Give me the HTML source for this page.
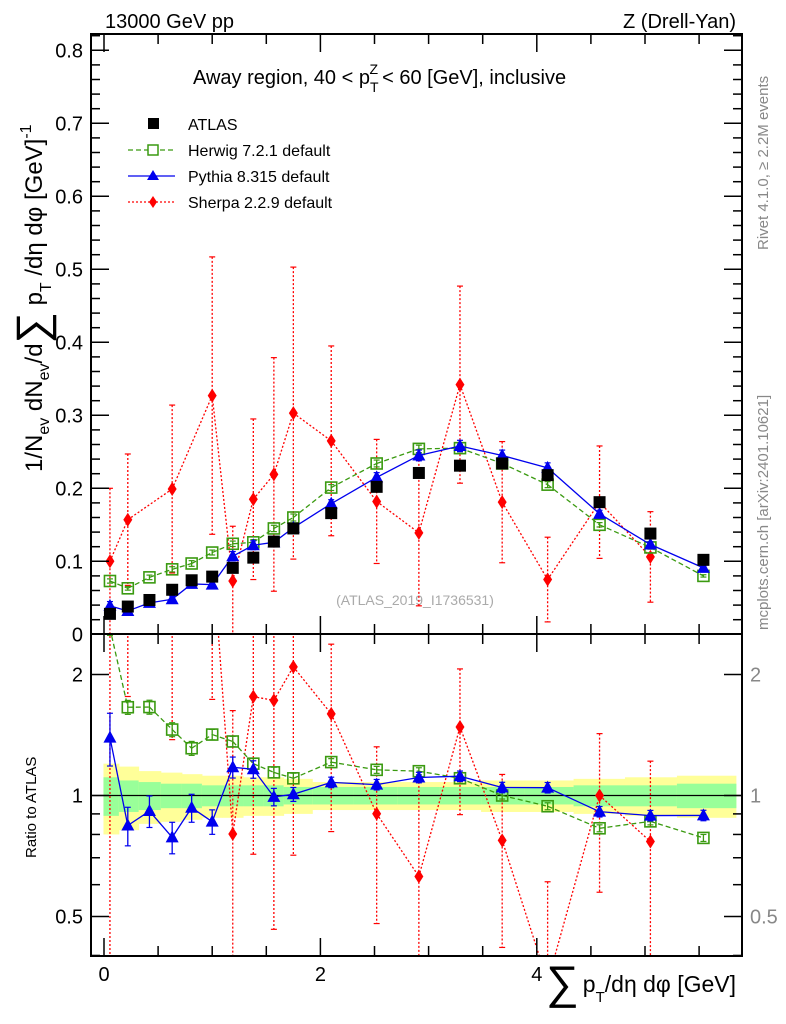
<!DOCTYPE html>
<html><head><meta charset="utf-8"><style>
html,body{margin:0;padding:0;background:#fff;overflow:hidden;width:786px;height:1024px;}
svg{display:block;font-family:"Liberation Sans",sans-serif;}
</style></head><body>
<svg id="chart" width="786" height="1024" viewBox="0 0 786 1024" xmlns="http://www.w3.org/2000/svg">
<defs>
<clipPath id="clipMain"><rect x="91" y="34" width="651" height="600"/></clipPath>
<clipPath id="clipRatio"><rect x="91" y="634" width="651" height="322"/></clipPath>
</defs>
<text x="105" y="28" font-size="20">13000 GeV pp</text>
<text x="736" y="28" font-size="20" text-anchor="end">Z (Drell-Yan)</text>
<text x="193" y="84" font-size="20">Away region, 40 &lt; p<tspan font-size="14" dy="8">T</tspan><tspan font-size="14" dx="-9" dy="-18">Z</tspan><tspan dy="10" dx="4">&lt; 60 [GeV], inclusive</tspan></text>
<text transform="translate(768,250) rotate(-90)" font-size="15" fill="#888">Rivet 4.1.0, ≥ 2.2M events</text>
<text transform="translate(768,630) rotate(-90)" font-size="15" fill="#888">mcplots.cern.ch [arXiv:2401.10621]</text>
<text x="415" y="605" font-size="14" fill="#aaa" text-anchor="middle">(ATLAS_2019_I1736531)</text>
<text transform="translate(42,472) rotate(-90)" font-size="24">1/N<tspan font-size="16" dy="7">ev</tspan><tspan dy="-7"> dN</tspan><tspan font-size="16" dy="7">ev</tspan><tspan dy="-7">/d</tspan><tspan font-size="44" dy="5">∑</tspan><tspan dy="-5"> p</tspan><tspan font-size="16" dy="9">T</tspan><tspan dy="-9"> /dη dφ  [GeV]</tspan><tspan font-size="16" dy="-11">-1</tspan></text>
<text transform="translate(36,858) rotate(-90)" font-size="15">Ratio to ATLAS</text>
<text x="546" y="998" font-size="23"><tspan font-size="46" dy="0">∑</tspan><tspan dx="4" dy="-6">p</tspan><tspan font-size="15" dy="10">T</tspan><tspan dy="-10">/dη dφ [GeV]</tspan></text>
<g id="legend">
 <g><rect x="148" y="118" width="11" height="11" fill="#000"/><text x="188" y="130" font-size="16">ATLAS</text></g>
 <g><line x1="128" y1="150" x2="175" y2="150" stroke="#3a9a10" stroke-width="1.3" stroke-dasharray="5,3"/><rect x="148" y="145" width="10" height="10" fill="#fff" stroke="#3a9a10" stroke-width="1.5"/><text x="188" y="156" font-size="16">Herwig 7.2.1 default</text></g>
 <g><line x1="128" y1="176" x2="175" y2="176" stroke="#0000ee" stroke-width="1.3"/><polygon points="153,170 159,180 147,180" fill="#0000ee"/><text x="188" y="182" font-size="16">Pythia 8.315 default</text></g>
 <g><line x1="128" y1="202" x2="175" y2="202" stroke="#ff0000" stroke-width="1.3" stroke-dasharray="2,2"/><polygon points="153,196 157,202 153,208 149,202" fill="#ff0000"/><text x="188" y="208" font-size="16">Sherpa 2.2.9 default</text></g>
</g>
<g id="plot"></g>
</svg>
<script>
const xVals=[0.055,0.22,0.42,0.63,0.81,1.0,1.19,1.38,1.57,1.75,2.1,2.52,2.91,3.29,3.68,4.1,4.58,5.05,5.54];
const atlas=[0.028,0.038,0.047,0.061,0.074,0.079,0.091,0.105,0.127,0.145,0.166,0.202,0.221,0.231,0.234,0.218,0.181,0.138,0.102];
const herwig=[0.073,0.063,0.078,0.089,0.097,0.112,0.124,0.126,0.145,0.160,0.201,0.234,0.254,0.255,0.234,0.205,0.150,0.119,0.080];
const herwigRelErr=[0.04,0.04,0.04,0.04,0.04,0.03,0.03,0.03,0.03,0.03,0.02,0.02,0.02,0.02,0.02,0.02,0.02,0.02,0.02];
const pythia=[0.039,0.032,0.043,0.048,0.069,0.068,0.107,0.122,0.126,0.146,0.179,0.215,0.245,0.258,0.245,0.228,0.165,0.123,0.091];
const pythiaRelErr=[0.15,0.11,0.09,0.09,0.08,0.07,0.06,0.05,0.05,0.04,0.03,0.03,0.03,0.03,0.03,0.03,0.03,0.03,0.03];
const sherpaX=[0.055,0.22,0.63,1.0,1.19,1.38,1.57,1.75,2.1,2.52,2.91,3.29,3.68,4.1,4.58,5.05];
const sherpaAtlas=[0.028,0.038,0.061,0.079,0.091,0.105,0.127,0.145,0.166,0.202,0.221,0.231,0.234,0.218,0.181,0.138];
const sherpa=[0.100,0.157,0.199,0.327,0.073,0.185,0.219,0.303,0.265,0.182,0.139,0.342,0.181,0.075,0.181,0.106];
const sherpaErr=[0.10,0.09,0.115,0.19,0.075,0.11,0.16,0.2,0.13,0.085,0.10,0.135,0.083,0.058,0.077,0.062];
const bandTot=[0.2,0.18,0.15,0.14,0.13,0.12,0.12,0.11,0.11,0.1,0.08,0.08,0.08,0.08,0.09,0.09,0.1,0.11,0.12];
const bandStat=[0.11,0.09,0.08,0.07,0.07,0.06,0.06,0.06,0.06,0.05,0.05,0.05,0.05,0.05,0.05,0.05,0.06,0.06,0.07];
const yTicks=[0,0.1,0.2,0.3,0.4,0.5,0.6,0.7,0.8];
const yTickLabels=["0","0.1","0.2","0.3","0.4","0.5","0.6","0.7","0.8"];
const xTickLabels=["0","2","4"];
const rTicks=[0.5,1,2];
const rTickLabels=["0.5","1","2"];

const NS="http://www.w3.org/2000/svg";
const L=91,R=742,MT=34,MB=634,RB=956;
const X=v=>104+108.2*v;
const Y=v=>634.3-730*v;
const RY=v=>795.5-121*Math.log2(v);
const g=document.getElementById('plot');
function el(tag,attrs,parent){const e=document.createElementNS(NS,tag);for(const k in attrs)e.setAttribute(k,attrs[k]);(parent||g).appendChild(e);return e;}

const bandG=el('g',{'clip-path':'url(#clipRatio)'});


for(let i=0;i<xVals.length;i++){
 const xa=i==0?X(xVals[0]-0.06):(X(xVals[i-1])+X(xVals[i]))/2;
 const xb=i==xVals.length-1?X(xVals[i]+0.3):(X(xVals[i])+X(xVals[i+1]))/2;
 const y1=RY(1+bandTot[i]),y2=RY(1-bandTot[i]);
 const r1=el('rect',{x:xa,y:y1,width:xb-xa+0.5,height:y2-y1,fill:'#ffff99'},bandG);
 
 
 const s1=RY(1+bandStat[i]),s2=RY(1-bandStat[i]);
 const r2=el('rect',{x:xa,y:s1,width:xb-xa+0.5,height:s2-s1,fill:'#99ff99'},bandG);
 
 
}
const oneLine=el('line',{x1:L,x2:R,y1:RY(1),y2:RY(1),stroke:'#000','stroke-width':1.3});



function series(name,xs,ys,errs,color,dash,marker,clip,ymap,top,bot){
 const cl=y=>Math.max(top-10,Math.min(bot+10,y));
 const sg=el('g',{'clip-path':'url(#'+clip+')'});
 
 
 const lim=[top-10,bot+10];
 function cut(ax,ay,bx,by){
  if(by<lim[0]){const t=(lim[0]-ay)/(by-ay);return [ax+(bx-ax)*t,lim[0]];}
  if(by>lim[1]){const t=(lim[1]-ay)/(by-ay);return [ax+(bx-ax)*t,lim[1]];}
  return [bx,by];
 }
 if(color!=='#000'){
  for(let i=0;i<xs.length-1;i++){
   let x1=X(xs[i]),y1=ymap(ys[i]),x2=X(xs[i+1]),y2=ymap(ys[i+1]);
   const inA=y1>=lim[0]&&y1<=lim[1], inB=y2>=lim[0]&&y2<=lim[1];
   if(!inA&&!inB)continue;
   if(!inB)[x2,y2]=cut(x1,y1,x2,y2);
   if(!inA)[x1,y1]=cut(x2,y2,x1,y1);
   const seg=el('line',{x1:x1,y1:y1,x2:x2,y2:y2,stroke:color,'stroke-width':1.3,'stroke-dasharray':dash||'none'},sg);
   
   
  }
 }
 xs.forEach((x,i)=>{
  const cx=X(x),cy=ymap(ys[i]);
  if(errs){
   const lo=Math.max(ys[i]-errs[i],1e-3),hi=ys[i]+errs[i];
   const eb=el('line',{x1:cx,x2:cx,y1:cl(ymap(hi)),y2:cl(ymap(lo)),stroke:color,'stroke-width':1.3,'stroke-dasharray':color=='#ff0000'?'2,2':'none'},sg);
   
   
   [hi,lo].forEach(v=>{const yy=ymap(v);if(yy<top||yy>bot)return;const c=el('line',{x1:cx-3,x2:cx+3,y1:yy,y2:yy,stroke:color,'stroke-width':1.2},sg);
    
    });
  }
  if(cy<top-8||cy>bot+8)return;
  let m;
  if(marker=='fsq')m=el('rect',{x:cx-6,y:cy-6,width:12,height:12,fill:'#000'},sg);
  else if(marker=='osq')m=el('rect',{x:cx-5.5,y:cy-5.5,width:11,height:11,fill:'none',stroke:color,'stroke-width':1.6},sg);
  else if(marker=='tri')m=el('polygon',{points:`${cx},${cy-7} ${cx+6.5},${cy+5} ${cx-6.5},${cy+5}`,fill:color},sg);
  else m=el('polygon',{points:`${cx},${cy-7} ${cx+4.5},${cy} ${cx},${cy+7} ${cx-4.5},${cy}`,fill:color},sg);
  
  
 });
}
series('sherpa-series',sherpaX,sherpa,sherpaErr,'#ff0000','2,2','dia','clipMain',Y,MT,MB);
series('herwig-series',xVals,herwig,herwig.map((v,i)=>v*herwigRelErr[i]),'#3a9a10','5,3','osq','clipMain',Y,MT,MB);
series('pythia-series',xVals,pythia,pythia.map((v,i)=>v*pythiaRelErr[i]),'#0000ee',null,'tri','clipMain',Y,MT,MB);
series('atlas-series',xVals,atlas,null,'#000',null,'fsq','clipMain',Y,MT,MB);
const hR=herwig.map((v,i)=>v/atlas[i]);
const pR=pythia.map((v,i)=>v/atlas[i]);
const sR=sherpa.map((v,i)=>v/sherpaAtlas[i]);
series('sherpa-ratio',sherpaX,sR,sherpaErr.map((e,i)=>e/sherpaAtlas[i]),'#ff0000','2,2','dia','clipRatio',RY,MB,RB);
series('herwig-ratio',xVals,hR,hR.map((v,i)=>v*herwigRelErr[i]),'#3a9a10','5,3','osq','clipRatio',RY,MB,RB);
series('pythia-ratio',xVals,pR,pR.map((v,i)=>v*pythiaRelErr[i]),'#0000ee',null,'tri','clipRatio',RY,MB,RB);

const f1=el('rect',{x:L,y:MT,width:R-L,height:MB-MT,fill:'none',stroke:'#000','stroke-width':2});


const f2=el('rect',{x:L,y:MB,width:R-L,height:RB-MB,fill:'none',stroke:'#000','stroke-width':2});


const ax=el('g',{stroke:'#000','stroke-width':1.5});


for(let v=0;v<=5.5;v+=0.5){
 const major=Math.abs(v-Math.round(v/2)*2)<1e-6;
 const len=major?18:10,x=X(v);
 [[MT,1],[MB,-1],[MB,1],[RB,-1]].forEach(([y,d])=>el('line',{x1:x,x2:x,y1:y,y2:y+d*len},ax));
}
xTickLabels.forEach((t,i)=>{const tx=el('text',{x:X(i*2),y:981,'font-size':20,'text-anchor':'middle'});tx.textContent=t;
 });
for(let k=0;k<=41;k++){const v=k*0.02;if(Y(v)<MT)break;const major=k%5==0;const len=major?18:9;
 el('line',{x1:L,x2:L+len,y1:Y(v),y2:Y(v)},ax);el('line',{x1:R,x2:R-len,y1:Y(v),y2:Y(v)},ax);}
yTicks.forEach((v,i)=>{const tx=el('text',{x:83,y:Y(v)+7,'font-size':20,'text-anchor':'end'});tx.textContent=yTickLabels[i];
 });
[0.4,0.5,0.6,0.7,0.8,0.9,1,2].forEach(v=>{const y=RY(v);if(y<MB||y>RB)return;const major=(v==0.5||v==1||v==2);const len=major?18:9;
 el('line',{x1:L,x2:L+len,y1:y,y2:y},ax);el('line',{x1:R,x2:R-len,y1:y,y2:y},ax);});
rTicks.forEach((v,i)=>{
 const t1=el('text',{x:83,y:RY(v)+7,'font-size':20,'text-anchor':'end'});t1.textContent=rTickLabels[i];
 
 const t2=el('text',{x:750,y:RY(v)+7,'font-size':20,fill:'#888'});t2.textContent=rTickLabels[i];
 
});
</script>
</body></html>
